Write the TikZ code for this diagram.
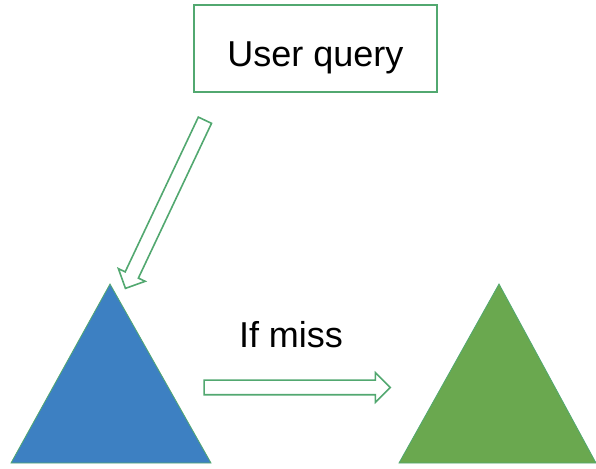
\documentclass[tikz,border=0pt]{standalone}
\usepackage{fontspec}
\setmainfont{Liberation Sans}
\usetikzlibrary{shapes.arrows}
\definecolor{edgegreen}{RGB}{82,168,112}
\definecolor{cacheblue}{RGB}{61,128,194}
\definecolor{storegreen}{RGB}{106,168,79}

\begin{document}
\begin{tikzpicture}[x=1pt, y=1pt, font=\fontsize{36}{43}\selectfont,
  blockarrow/.style={single arrow, draw=edgegreen, line width=1.6pt, fill=white,
    inner xsep=0pt, inner ysep=6.5pt, single arrow head extend=7.5pt, minimum height=186pt}]
\useasboundingbox (0,0) rectangle (596,468);
\node[draw=edgegreen, line width=1.5pt, minimum width=243pt, inner sep=0pt,
  text height=62pt, text depth=25pt] (query) at (315.5,419.5) {User query};
\foreach \name/\l/\x/\r/\col in {cache/11/110/211/cacheblue, store/399/499/596/storegreen}
{\draw[fill=\col, draw=edgegreen, line width=0.8pt] (\l,5) -- (\x,184) coordinate (\name) -- (\r,5) -- cycle;}
\node[blockarrow, rotate=244.7] (ask) at (166.75,267) {};
\node[blockarrow, minimum height=186pt] (miss) at (293.5,80.5) {};
\node[anchor=base] (misslabel) at (291,120) {If miss};
\end{tikzpicture}
\end{document}
